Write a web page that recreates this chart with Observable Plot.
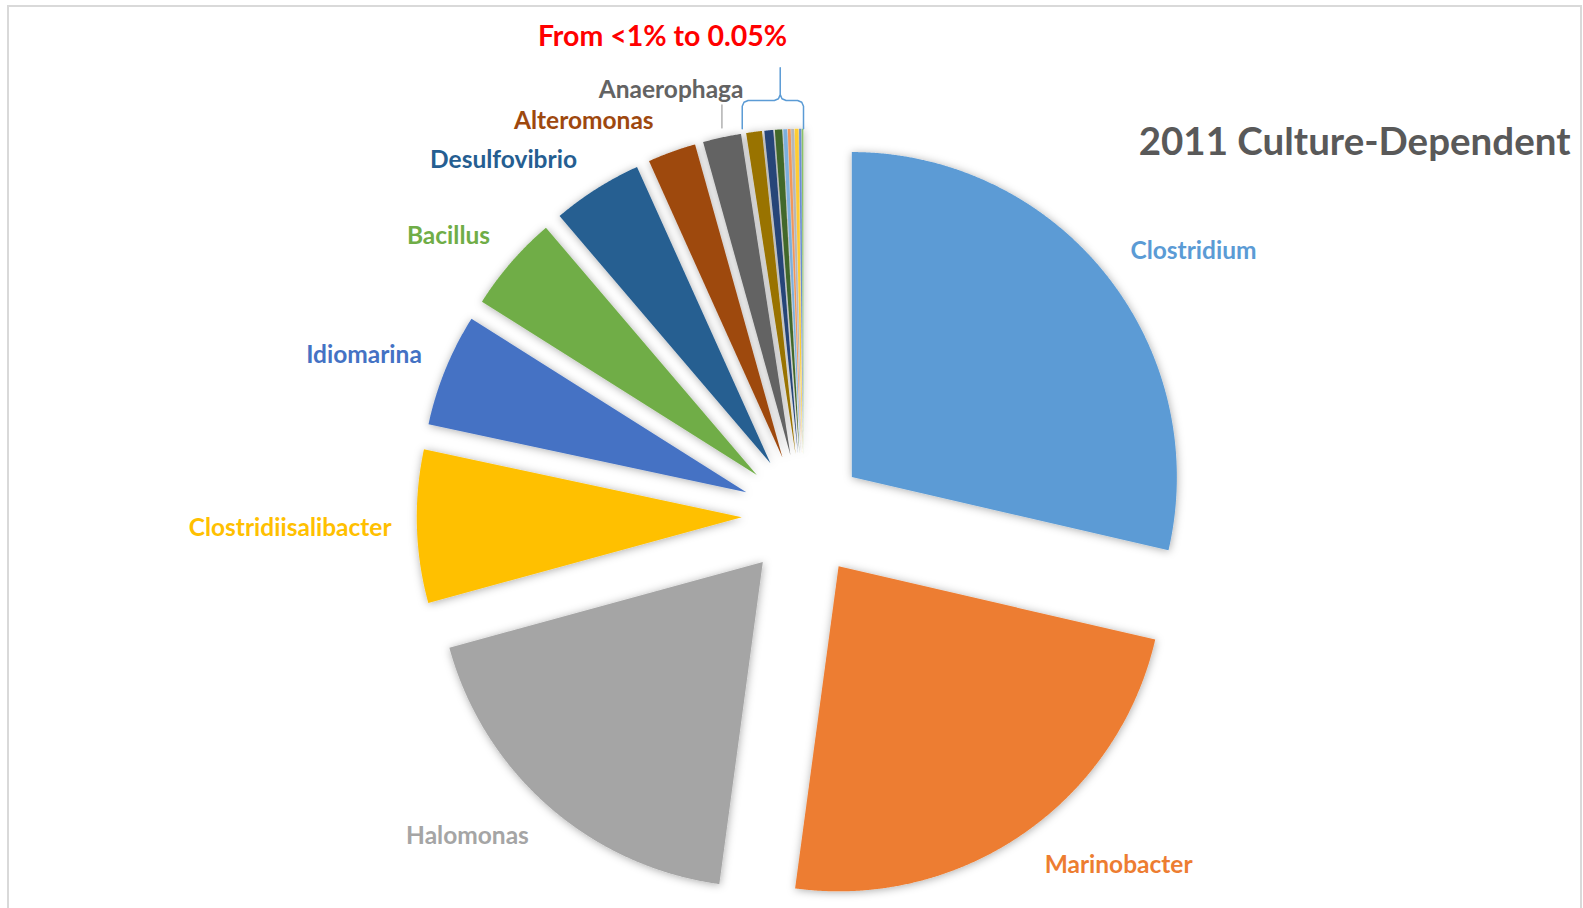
<!DOCTYPE html>
<html><head><meta charset="utf-8">
<script src="https://cdn.jsdelivr.net/npm/d3@7"></script>
<script src="https://cdn.jsdelivr.net/npm/@observablehq/plot@0.6"></script>
<style>
html,body{margin:0;padding:0;background:#fff;}
#wrap{position:relative;width:1583px;height:908px;overflow:hidden;}
#wrap svg{position:absolute;left:0;top:0;background:transparent;}
#border{position:absolute;left:7px;top:5px;width:1575px;height:960px;border:2px solid #d9d9d9;box-sizing:border-box;pointer-events:none;}
</style></head><body><div id="wrap"><div id="border"></div></div>
<script>
// ---- data ----
const genera = ["Clostridium","Marinobacter","Halomonas","Clostridiisalibacter","Idiomarina","Bacillus","Desulfovibrio","Alteromonas","Anaerophaga",
  "Minor 1","Minor 2","Minor 3","Minor 4","Minor 5","Minor 6","Minor 7","Minor 8","Minor 9"];
const shares = [28.6,23.5,18.6,7.6,5.6,4.8,4.5,2.4,1.9,0.78,0.44,0.36,0.19,0.14,0.14,0.19,0.11,0.08];
const colors = ["#5B9BD5","#ED7D31","#A5A5A5","#FFC000","#4472C4","#70AD47","#255E91","#9E480E","#636363",
  "#997300","#264478","#43682B","#7CAFDD","#F1975A","#B7B7B7","#FFCD33","#698ED0","#8CC168"];
const labeled = ["Clostridium","Marinobacter","Halomonas","Clostridiisalibacter","Idiomarina","Bacillus","Desulfovibrio","Alteromonas","Anaerophaga"];
const titleText = "2011 Culture-Dependent";
const noteText = "From <1% to 0.05%";

// ---- layout (pie radius = 1 unit) ----
const W = 1583, H = 908, R = 325, CX = 803, CY = 515;
const explode = 0.19;
const labelAngle = [55.9,138.0,226.3,268.6,290.1,308.2,319.8,330.9,342.7];
const labelRadius = [1.449,1.449,1.43,1.58,1.44,1.39,1.43,1.39,1.37];
const deg = Math.PI/180;

const arcs = d3.pie().sort(null).value(d => d)(shares);
const slicePts = [];
arcs.forEach((a, i) => {
  const mid = (a.startAngle + a.endAngle)/2;
  const ox = explode*Math.sin(mid), oy = explode*Math.cos(mid);
  slicePts.push({name: genera[i], x: ox, y: oy});
  const n = Math.max(2, Math.ceil((a.endAngle - a.startAngle)/(0.2*deg)));
  for (let k = 0; k <= n; k++) {
    const t = a.startAngle + (a.endAngle - a.startAngle)*k/n;
    slicePts.push({name: genera[i], x: ox + Math.sin(t), y: oy + Math.cos(t)});
  }
});

const labels = labeled.map((g, i) => ({
  name: g,
  x: labelRadius[i]*Math.sin(labelAngle[i]*deg),
  y: labelRadius[i]*Math.cos(labelAngle[i]*deg)
}));

// leader line for Anaerophaga
const ia = genera.indexOf("Anaerophaga");
const aA = arcs[ia], midA = (aA.startAngle + aA.endAngle)/2;
const lx = explode*Math.sin(midA) + Math.sin(midA);
const leader = [
  {x: lx, y: explode*Math.cos(midA) + 1.03*Math.cos(midA)},
  {x: lx, y: labels[ia].y - 0.045}
];

// bracket over the minor slices
const firstMinor = arcs[9];
const m0 = (firstMinor.startAngle + firstMinor.endAngle)/2;
const bx0 = explode*Math.sin(m0) + Math.sin(firstMinor.startAngle) - 0.012;
const bx1 = 0;
const bxc = bx0 + (bx1 - bx0)*0.62;
const yEnd = 1.19, yBar = 1.277, yTip = 1.378, rr = 0.018;
const bracket = [
  [bx0, yEnd],[bx0, yBar - rr],[bx0 + rr*0.3, yBar - rr*0.3],[bx0 + rr, yBar],
  [bxc - rr, yBar],[bxc - rr*0.3, yBar + rr*0.3],[bxc, yBar + rr],[bxc, yTip],
  [bxc, yBar + rr],[bxc + rr*0.3, yBar + rr*0.3],[bxc + rr, yBar],
  [bx1 - rr, yBar],[bx1 - rr*0.3, yBar - rr*0.3],[bx1, yBar - rr],[bx1, yEnd]
].map(([x, y]) => ({x, y}));

const font = "Lato, 'Open Sans', sans-serif";

const plot = Plot.plot({
  width: W, height: H, margin: 0,
  x: {domain: [-CX/R, (W - CX)/R], axis: null},
  y: {domain: [-(H - CY)/R, CY/R], axis: null},
  color: {domain: genera, range: colors},
  style: {background: "transparent"},
  marks: [
    Plot.line(slicePts, {x: "x", y: "y", z: "name", fill: "name", stroke: "none", curve: "linear-closed"}),
    Plot.line(leader, {x: "x", y: "y", stroke: "#a5a5a5", strokeWidth: 1.3}),
    Plot.line(bracket, {x: "x", y: "y", stroke: "#5B9BD5", strokeWidth: 1.5, curve: "linear"}),
    Plot.text(labels, {x: "x", y: "y", text: "name", fill: "name", fontSize: 24.5, fontWeight: "bold", fontFamily: font}),
    Plot.text([titleText], {x: (1570 - CX)/R, y: (CY - 142)/R, text: d => d, textAnchor: "end", fill: "#595959", fontSize: 38.5, fontWeight: "bold", fontFamily: font}),
    Plot.text([noteText], {x: (662 - CX)/R, y: (CY - 36)/R, text: d => d, fill: "#ff0000", fontSize: 28.5, fontWeight: "bold", fontFamily: font})
  ]
});

// soft shadow on slices
const ns = "http://www.w3.org/2000/svg";
const defs = document.createElementNS(ns, "defs");
defs.innerHTML = '<filter id="sh" x="-30%" y="-30%" width="160%" height="160%"><feDropShadow dx="0.5" dy="1" stdDeviation="4" flood-color="#000" flood-opacity="0.33"/></filter>';
plot.insertBefore(defs, plot.firstChild);
const g = plot.querySelector('g[aria-label="line"]');
if (g) g.setAttribute("filter", "url(#sh)");

document.getElementById("wrap").insertBefore(plot, document.getElementById("border"));
</script>
</body></html>
